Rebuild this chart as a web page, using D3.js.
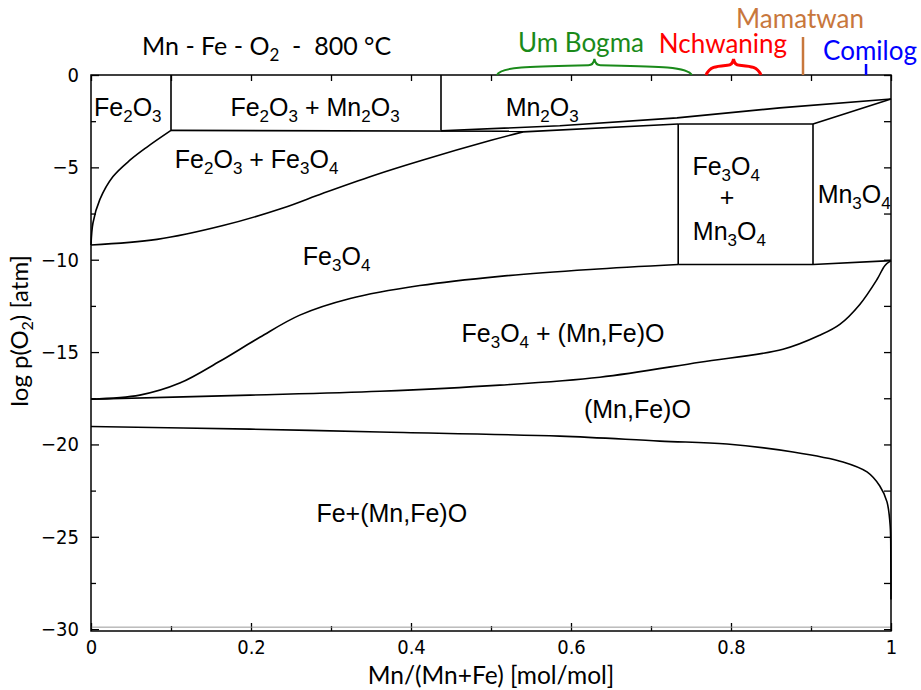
<!DOCTYPE html>
<html lang="en">
<head>
  <meta charset="UTF-8">
  <title>Mn - Fe - O2 phase diagram, 800 °C</title>
  <script src="https://d3js.org/d3.v7.min.js"></script>
  <style>
    body { margin: 0; background: #fff; }
    svg text { fill: #000; }
    .tick text { font-family: "Liberation Sans Narrow", "DejaVu Sans Condensed", sans-serif; font-size: 20px; }
    .region { font-family: "Liberation Sans", Arial, sans-serif; font-size: 25px; }
    .calib { font-family: Lato, "Open Sans", sans-serif; }
  </style>
</head>
<body>
  <svg id="chart" width="921" height="690"></svg>

  <script>
    // phase boundaries: [Mn/(Mn+Fe), log pO2]
    const hematiteEdge = [[0, -9.2], [0.0025, -8.0], [0.011, -6.75], [0.0275, -5.5], [0.049, -4.6], [0.07, -3.9], [0.1, -3.0]];
    const hematiteBoxLeft = [[0.1, 0], [0.1, -3.0]];
    const hematiteBoxBottom = [[0.1, -3.0], [0.54, -3.05]];
    const hematiteBoxRight = [[0.4375, 0], [0.4375, -3.0]];
    const magnetiteTop = [[0, -9.2], [0.0825, -8.9], [0.165, -8.15], [0.24, -7.2], [0.29, -6.4], [0.3525, -5.45], [0.415, -4.6], [0.499, -3.55], [0.54, -3.08]];
    const magnetiteTie = [[0.54, -3.08], [0.734, -2.65]];
    const bixbyiteBottom = [[0.4375, -3.02], [0.586, -2.75], [0.7325, -2.32], [0.861, -1.78], [1, -1.3]];
    const spinelBoxLeft = [[0.734, -2.65], [0.734, -10.26]];
    const spinelBoxRight = [[0.9025, -2.65], [0.9025, -10.26]];
    const spinelBoxTop = [[0.734, -2.65], [0.9025, -2.65]];
    const spinelBoxBottom = [[0.734, -10.26], [0.9025, -10.26]];
    const hausmanniteTop = [[0.9025, -2.65], [1, -1.3]];
    const hausmanniteBottom = [[0.9025, -10.26], [1, -10.05]];
    const magnetiteBottom = [[0, -17.55], [0.061, -17.33], [0.111, -16.68], [0.161, -15.5], [0.211, -14.2], [0.261, -13.0], [0.324, -12.1], [0.411, -11.4], [0.511, -10.9], [0.624, -10.53], [0.734, -10.26]];
    const wustiteTop = [[0, -17.55], [0.199, -17.33], [0.361, -17.12], [0.511, -16.79], [0.636, -16.36], [0.761, -15.55], [0.865, -14.85], [0.911, -14.09], [0.936, -13.5], [0.961, -12.42], [0.9825, -11.07], [0.9925, -10.31], [1, -10.05]];
    const wustiteBottom = [[0, -19.03], [0.199, -19.17], [0.361, -19.33], [0.586, -19.55], [0.711, -19.82], [0.795, -19.98], [0.8775, -20.41], [0.94, -20.95], [0.97, -21.49], [0.986, -22.25], [0.995, -23.11], [0.999, -24.41], [0.9998, -26.2], [1, -28.4]];

    const curved = [hematiteEdge, magnetiteTop, magnetiteBottom, wustiteTop, wustiteBottom];
    const straight = [hematiteBoxLeft, hematiteBoxBottom, hematiteBoxRight, magnetiteTie, bixbyiteBottom,
      spinelBoxLeft, spinelBoxRight, spinelBoxTop, spinelBoxBottom, hausmanniteTop, hausmanniteBottom];

    // phase field names ("_" puts the next digit in subscript)
    const regionNames = ["Fe_2O_3", "Fe_2O_3 + Mn_2O_3", "Mn_2O_3", "Fe_2O_3 + Fe_3O_4", "Fe_3O_4", "Fe_3O_4", "+", "Mn_3O_4", "Mn_3O_4", "Fe_3O_4 + (Mn,Fe)O", "(Mn,Fe)O", "Fe+(Mn,Fe)O"];
    const regionX = [0.046, 0.28, 0.564, 0.207, 0.307, 0.794, 0.795, 0.798, 0.954, 0.59, 0.683, 0.376];
    const regionY = [-2.2, -2.2, -2.2, -5.05, -10.3, -5.4, -7.1, -8.95, -6.95, -14.45, -18.55, -24.2];

    // deposits marked above the frame
    const deposits = ["Um Bogma", "Nchwaning", "Mamatwan", "Comilog"];
    const depositFrom = [0.5075, 0.7688, 0.89, 0.9688];
    const depositTo = [0.751, 0.8375, 0.89, 0.9688];
    const depositColors = ["#1a8a1a", "#ff0000", "#c8773c", "#0000ff"];

    const xMajor = [0, 0.2, 0.4, 0.6, 0.8, 1];
    const xMinor = [0.1, 0.3, 0.5, 0.7, 0.9];
    const yMajor = [0, -5, -10, -15, -20, -25, -30];
    const yMinor = [-2.5, -7.5, -12.5, -17.5, -22.5, -27.5];

    const svg = d3.select("#chart");
    const mLeft = 91, mTop = 75, w = 800, h = 556;
    const x = d3.scaleLinear().domain([0, 1]).range([mLeft, mLeft + w]);
    const y = d3.scaleLinear().domain([-30.1, 0]).range([mTop + h, mTop]);

    // axes, ticks pointing inward
    const noLabel = () => "";
    svg.append("g").attr("transform", `translate(0,${mTop + h})`)
      .call(d3.axisBottom(x).tickValues(xMajor).tickSize(-8).tickSizeOuter(0).tickPadding(9).tickFormat(d3.format("")));
    svg.append("g").attr("transform", `translate(0,${mTop + h})`)
      .call(d3.axisBottom(x).tickValues(xMinor).tickSize(-5).tickSizeOuter(0).tickFormat(noLabel));
    svg.append("g").attr("transform", `translate(0,${mTop})`)
      .call(d3.axisTop(x).tickValues(xMajor.concat(xMinor)).tickSize(-6).tickSizeOuter(0).tickFormat(noLabel));
    svg.append("g").attr("transform", `translate(${mLeft},0)`)
      .call(d3.axisLeft(y).tickValues(yMajor).tickSize(-8).tickSizeOuter(0).tickPadding(12));
    svg.append("g").attr("transform", `translate(${mLeft},0)`)
      .call(d3.axisLeft(y).tickValues(yMinor).tickSize(-5).tickSizeOuter(0).tickFormat(noLabel));
    svg.append("g").attr("transform", `translate(${mLeft + w},0)`)
      .call(d3.axisRight(y).tickValues(yMajor.concat(yMinor)).tickSize(-7).tickSizeOuter(0).tickFormat(noLabel));
    svg.selectAll(".domain").remove();
    svg.selectAll(".tick line").attr("stroke", "#000").attr("stroke-width", 1.3);

    svg.append("line").attr("x1", mLeft).attr("x2", mLeft + w)
      .attr("y1", y(-30) - 2).attr("y2", y(-30) - 2).attr("stroke", "#999").attr("stroke-width", 1);
    svg.append("rect").attr("x", mLeft).attr("y", mTop).attr("width", w).attr("height", h)
      .attr("fill", "none").attr("stroke", "#000").attr("stroke-width", 1.5);

    // boundaries
    const smooth = d3.line().x(d => x(d[0])).y(d => y(d[1])).curve(d3.curveCatmullRom.alpha(0.5));
    const lin = d3.line().x(d => x(d[0])).y(d => y(d[1]));
    svg.append("g").selectAll("path").data(curved).join("path")
      .attr("d", smooth).attr("fill", "none").attr("stroke", "#000").attr("stroke-width", 1.6);
    svg.append("g").selectAll("path").data(straight).join("path")
      .attr("d", lin).attr("fill", "none").attr("stroke", "#000").attr("stroke-width", 1.6);

    // chemical text with subscripts
    function chem(sel, s, subSize) {
      const parts = s.split(/(_\d)/).filter(p => p.length);
      let down = false;
      parts.forEach(p => {
        if (p[0] === "_") {
          sel.append("tspan").attr("font-size", subSize).attr("dy", down ? 0 : 6).text(p[1]);
          down = true;
        } else {
          sel.append("tspan").attr("dy", down ? -6 : 0).text(p);
          down = false;
        }
      });
    }

    regionNames.forEach((name, i) => {
      const t = svg.append("text").attr("class", "region")
        .attr("x", x(regionX[i])).attr("y", y(regionY[i])).attr("text-anchor", "middle");
      chem(t, name, 17);
    });

    // deposit markers
    function brace(x1, x2, yb, hgt) {
      const xm = (x1 + x2) / 2, s = hgt * 0.55;
      return `M${x1},${yb} C${x1 + 4},${yb - s} ${x1 + (xm - x1) * 0.4},${yb - s} ${xm - 6},${yb - s - 1}` +
        ` Q${xm - 1},${yb - s - 1} ${xm},${yb - hgt} Q${xm + 1},${yb - s - 1} ${xm + 6},${yb - s - 1}` +
        ` C${x2 - (x2 - xm) * 0.4},${yb - s} ${x2 - 4},${yb - s} ${x2},${yb}`;
    }
    const labelX = [581, 723, 800, 870];
    const labelY = [52, 53, 28, 60];
    deposits.forEach((name, i) => {
      const x1 = x(depositFrom[i]), x2 = x(depositTo[i]);
      if (x2 - x1 > 1) {
        svg.append("path").attr("d", brace(x1, x2, mTop, 16)).attr("fill", "none")
          .attr("stroke", depositColors[i]).attr("stroke-width", i === 1 ? 3 : 2);
      } else {
        svg.append("line").attr("x1", x1).attr("x2", x1).attr("y1", mTop).attr("y2", i === 2 ? 37 : 64)
          .attr("stroke", depositColors[i]).attr("stroke-width", 2.5);
      }
      svg.append("text").attr("class", "calib").attr("x", labelX[i]).attr("y", labelY[i])
        .attr("text-anchor", "middle").attr("font-size", 26).style("fill", depositColors[i]).text(name);
    });

    // title and axis titles
    const title = svg.append("text").attr("class", "calib").attr("x", 142).attr("y", 55).attr("font-size", 25);
    title.append("tspan").text("Mn - Fe - O");
    title.append("tspan").attr("font-size", 17).attr("dy", 6).text("2");
    title.append("tspan").attr("dy", -6).attr("xml:space", "preserve").text("  -  800 °C");

    svg.append("text").attr("class", "calib").attr("x", mLeft + w / 2).attr("y", 684)
      .attr("text-anchor", "middle").attr("font-size", 24.5).text("Mn/(Mn+Fe) [mol/mol]");

    const yt = svg.append("text").attr("class", "calib").attr("transform", "translate(28,331) rotate(-90)")
      .attr("text-anchor", "middle").attr("font-size", 24);
    yt.append("tspan").text("log p(O");
    yt.append("tspan").attr("font-size", 16).attr("dy", 5).text("2");
    yt.append("tspan").attr("dy", -5).text(") [atm]");
  </script>
</body>
</html>
